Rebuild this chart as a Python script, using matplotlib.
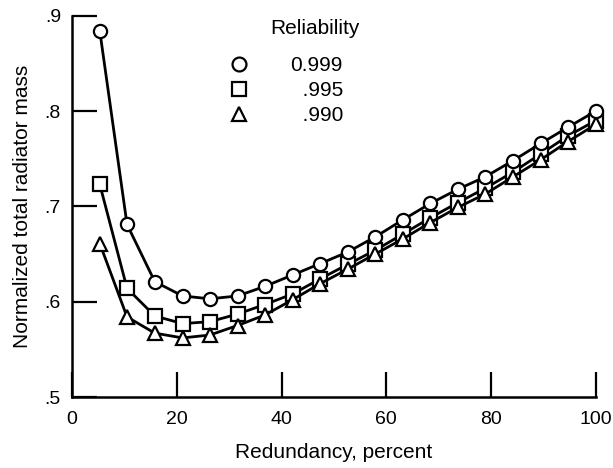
import matplotlib
matplotlib.use('Agg')
import matplotlib.pyplot as plt
from matplotlib.lines import Line2D

plt.rcParams['font.family'] = ['Liberation Sans', 'DejaVu Sans']

# Dados
redundancia = [5.3, 10.5, 15.8, 21.1, 26.3, 31.6, 36.8, 42.1, 47.4, 52.6,
               57.9, 63.2, 68.4, 73.7, 78.9, 84.2, 89.5, 94.7, 100.0]
massa_999 = [0.884, 0.681, 0.621, 0.606, 0.603, 0.606, 0.616, 0.628, 0.640, 0.652,
             0.668, 0.686, 0.703, 0.718, 0.731, 0.748, 0.766, 0.783, 0.800]
massa_995 = [0.723, 0.614, 0.585, 0.577, 0.579, 0.587, 0.597, 0.608, 0.624, 0.639,
             0.654, 0.671, 0.688, 0.704, 0.719, 0.736, 0.755, 0.774, 0.790]
massa_990 = [0.661, 0.584, 0.567, 0.562, 0.565, 0.575, 0.586, 0.602, 0.619, 0.634,
             0.650, 0.666, 0.683, 0.699, 0.713, 0.731, 0.749, 0.768, 0.786]

rotulos_legenda = ['0.999', '\u2007.995', '\u2007.990']
marcadores = ['o', 's', '^']
x_ticks = [0, 20, 40, 60, 80, 100]
y_ticks = [0.5, 0.6, 0.7, 0.8, 0.9]
y_rotulos = ['.5', '.6', '.7', '.8', '.9']

fig = plt.figure(figsize=(6.13, 4.68), dpi=100)
ax = fig.add_axes([0.1175, 0.1517, 0.8545, 0.8148])

estilo = dict(color='black', lw=2.0, markersize=9.5, markerfacecolor='white',
              markeredgecolor='black', markeredgewidth=1.6, clip_on=False)
ax.plot(redundancia, massa_995, marker='s', zorder=3, **estilo)
ax.plot(redundancia, massa_990, marker='^', zorder=4, **estilo)
ax.plot(redundancia, massa_999, marker='o', zorder=5, **estilo)

ax.set_xlim(0, 100)
ax.set_ylim(0.5, 0.9)
ax.set_xticks(x_ticks)
ax.set_yticks(y_ticks)
ax.set_yticklabels(y_rotulos)
ax.tick_params(direction='in', length=18, width=1.6, labelsize=14, colors='black')
ax.tick_params(axis='x', pad=10)
ax.tick_params(axis='y', pad=8)

for lado in ['top', 'right']:
    ax.spines[lado].set_visible(False)
for lado in ['left', 'bottom']:
    ax.spines[lado].set_linewidth(1.8)

ax.set_xlabel('Redundancy, percent', fontsize=15, labelpad=11)
ax.set_ylabel('Normalized total radiator mass', fontsize=15, labelpad=9)

# Legenda
alcas = [Line2D([], [], linestyle='none', marker=m, markersize=10,
                markerfacecolor='white', markeredgecolor='black',
                markeredgewidth=1.6) for m in marcadores]
ax.legend(alcas, rotulos_legenda, loc='upper left', bbox_to_anchor=(0.298, 0.893),
          frameon=False, fontsize=15, handlelength=1.0, handletextpad=2.0,
          labelspacing=0.28, borderpad=0, borderaxespad=0)
ax.text(0.464, 0.967, 'Reliability', transform=ax.transAxes, fontsize=15,
        ha='center', va='center')

fig.savefig('out.png', dpi=100)
